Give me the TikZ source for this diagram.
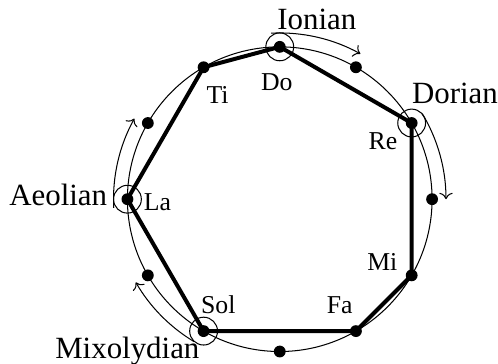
\documentclass[tikz,border=0pt]{standalone}
\usepackage{fontspec}
\setmainfont{Liberation Serif}
\usepackage{tikz}
\usetikzlibrary{positioning,arrows.meta,calc}
\newcommand{\wheelR}{2.08}
\newcommand{\arcR}{2.27}

\begin{document}
\begin{tikzpicture}[
                font=\fontsize{12}{14}\selectfont,
                dot/.style={circle, fill=black, inner sep=0pt, minimum size=4.6pt},
                modering/.style={circle, draw=black, thin, inner sep=0pt, minimum size=0.38cm},
                notelabel/.style={font=\fontsize{10}{12}\selectfont, inner sep=0pt, anchor=base},
                modename/.style={inner sep=0pt},
                scaleline/.style={line width=1.55pt, line join=round},
                modearrow/.style={->, thin}
                ]
                \useasboundingbox (-3.82,-2.25) rectangle (2.98,2.72);
                \coordinate (c) at (0,0);
                \draw[thin] (c) circle (\wheelR);

                % the twelve steps, clockwise from Do
                \node[dot] (do) at (90:\wheelR) {};
                \node[dot] (di) at (60:\wheelR) {};
                \node[dot] (re) at (30:\wheelR) {};
                \node[dot] (ri) at (0:\wheelR) {};
                \node[dot] (mi) at (-30:\wheelR) {};
                \node[dot] (fa) at (-60:\wheelR) {};
                \node[dot] (fi) at (-90:\wheelR) {};
                \node[dot] (sol) at (-120:\wheelR) {};
                \node[dot] (si) at (-150:\wheelR) {};
                \node[dot] (la) at (180:\wheelR) {};
                \node[dot] (li) at (150:\wheelR) {};
                \node[dot] (ti) at (120:\wheelR) {};

                \draw[scaleline] (do.center) -- (re.center) -- (mi.center) -- (fa.center) -- (sol.center) -- (la.center) -- (ti.center) -- cycle;

                \node[notelabel] (dolabel) at (-0.04,1.49) {Do};
                \node[notelabel] (tilabel) at (-0.85,1.30) {Ti};
                \node[notelabel] (relabel) at (1.41,0.68) {Re};
                \node[notelabel] (milabel) at (1.40,-0.98) {Mi};
                \node[notelabel] (falabel) at (0.82,-1.56) {Fa};
                \node[notelabel] (sollabel) at (-0.84,-1.56) {Sol};
                \node[notelabel] (lalabel) at (-1.67,-0.15) {La};

                \node[modering] (doring) at (do) {};
                \node[modering] (rering) at (re) {};
                \node[modering] (laring) at (la) {};
                \node[modering] (solring) at (sol) {};

                \node[modename, anchor=base west] (ionian) at (-0.04,2.32) {Ionian};
                \node[modename, anchor=base west] (dorian) at (1.80,1.31) {Dorian};
                \node[modename, anchor=base east] (aeolian) at (-2.35,-0.08) {Aeolian};
                \node[modename, anchor=base east] (mixolydian) at (-1.09,-2.17) {Mixolydian};

                % one step round the wheel for each mode
                \coordinate (ionianstart) at (93:\arcR);
                \coordinate (dorianstart) at (31:\arcR);
                \coordinate (aeolianstart) at (183:\arcR);
                \coordinate (mixolydianstart) at (239:\arcR);
                \draw[modearrow] (ionianstart) arc[start angle=93, end angle=61, radius=\arcR];
                \draw[modearrow] (dorianstart) arc[start angle=31, end angle=0, radius=\arcR];
                \draw[modearrow] (aeolianstart) arc[start angle=183, end angle=151, radius=\arcR];
                \draw[modearrow] (mixolydianstart) arc[start angle=239, end angle=210, radius=\arcR];
            \end{tikzpicture}
\end{document}
